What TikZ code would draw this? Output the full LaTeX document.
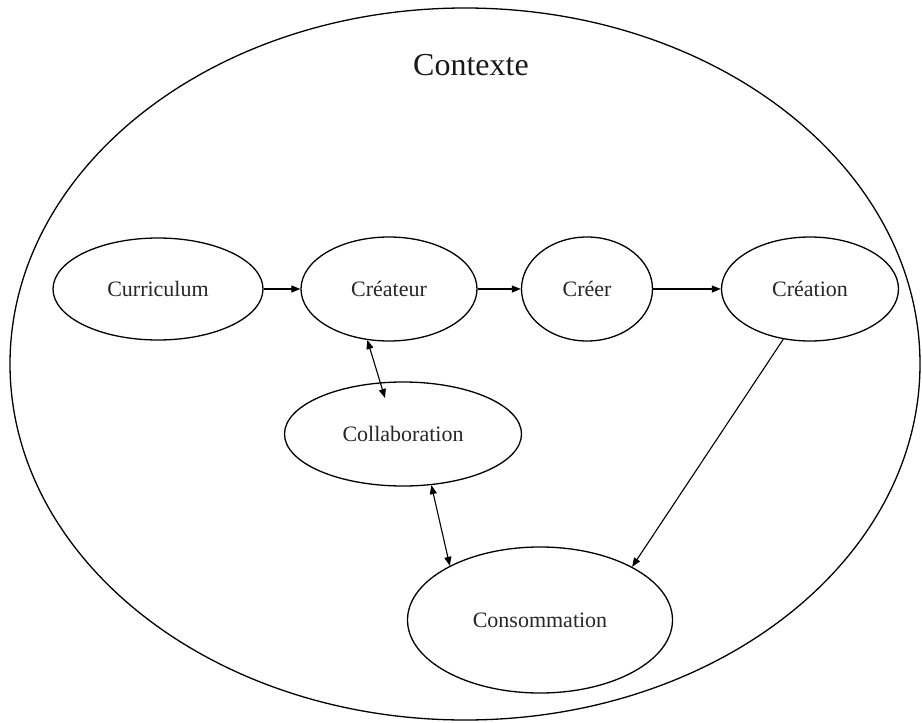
\documentclass[tikz,border=0pt]{standalone}
\usepackage{fontspec}
\setmainfont{Liberation Serif}
\usetikzlibrary{shapes.geometric,arrows.meta}
\begin{document}
\begin{tikzpicture}[x=1pt,y=-1pt,
  stage/.style={ellipse,draw,line width=1.3pt,inner sep=0pt,
    font=\fontsize{22}{26}\selectfont,text=black!85},
  flow/.style={line width=1.1pt,-{Triangle[length=9pt,width=7pt]}},
  mutual/.style={line width=1.1pt,{Triangle[length=9pt,width=7pt]}-{Triangle[length=9pt,width=7pt]}}]
\useasboundingbox (0,0) rectangle (922,723);

% surrounding context
\node[ellipse,draw,line width=1.3pt,inner sep=0pt,
      minimum width=910pt,minimum height=712pt] (ctx) at (465,364) {};
\node[anchor=base,font=\fontsize{32}{38}\selectfont,text=black!90] (ctxlabel) at (471,75) {Contexte};

% stages
\node[stage,minimum width=210pt,minimum height=102pt] (cur)  at (158,289) {Curriculum};
\node[stage,minimum width=176pt,minimum height=104pt] (crt)  at (389,289) {Créateur};
\node[stage,minimum width=131pt,minimum height=104pt] (crer) at (587,289) {Créer};
\node[stage,minimum width=177pt,minimum height=104pt] (crea) at (810,289) {Création};
\node[stage,minimum width=237pt,minimum height=104pt] (col)  at (403,434) {Collaboration};
\node[stage,minimum width=265pt,minimum height=146pt] (cons) at (540,620) {Consommation};

% end point of the link that reaches into Collaboration
\coordinate (colin) at (385,398);

% connectors
\draw[flow] (cur) -- (crt);
\draw[flow] (crt) -- (crer);
\draw[flow] (crer) -- (crea);
\draw[flow] (crea.242) -- (cons.30);
\draw[mutual] (crt.247) -- (colin);
\draw[mutual] (col.299) -- (cons.149);
\end{tikzpicture}
\end{document}
